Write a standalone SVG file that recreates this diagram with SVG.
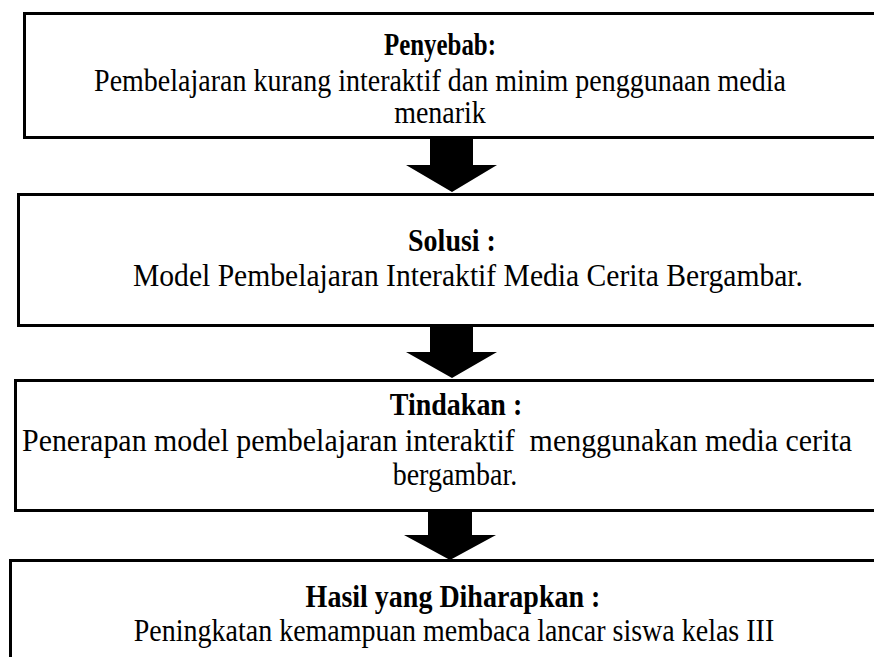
<svg xmlns="http://www.w3.org/2000/svg" width="874" height="657" viewBox="0 0 874 657">
<style>
.box{fill:#fff;stroke:#000;stroke-width:3}
.t{font-family:"Liberation Serif","Times New Roman",serif;font-size:28px;fill:#000;text-anchor:middle;transform-box:fill-box;transform-origin:center;transform:scaleY(1.12)}
.b{font-weight:bold}
.arr{fill:#000}
</style>
<rect width="874" height="657" fill="#fff"/>
<g id="node-penyebab">
<rect class="box" x="24.5" y="13.5" width="870" height="124"/>
<text class="t b" x="440" y="54" textLength="112" lengthAdjust="spacingAndGlyphs">Penyebab:</text>
<text class="t" x="440" y="90">Pembelajaran kurang interaktif dan minim penggunaan media</text>
<text class="t" x="440" y="122">menarik</text>
</g>
<g id="node-solusi">
<rect class="box" x="18.5" y="194.5" width="870" height="131"/>
<text class="t b" x="452" y="250">Solusi :</text>
<text class="t" x="468" y="285" textLength="670" lengthAdjust="spacingAndGlyphs">Model Pembelajaran Interaktif Media Cerita Bergambar.</text>
</g>
<g id="node-tindakan">
<rect class="box" x="15.5" y="380.5" width="870" height="130"/>
<text class="t b" x="456" y="414">Tindakan :</text>
<text class="t" x="437" y="450" xml:space="preserve" textLength="830" lengthAdjust="spacingAndGlyphs">Penerapan model pembelajaran interaktif  menggunakan media cerita</text>
<text class="t" x="455" y="484">bergambar.</text>
</g>
<g id="node-hasil">
<rect class="box" x="10.5" y="560.5" width="870" height="120"/>
<text class="t b" x="453" y="606">Hasil yang Diharapkan :</text>
<text class="t" x="454" y="640">Peningkatan kemampuan membaca lancar siswa kelas III</text>
</g>
<g id="connectors">
<polygon class="arr" points="430,138 473,138 473,165 497,165 452,192 406,165 430,165"/>
<polygon class="arr" points="430,327 473,327 473,352 497,352 452,378 406,352 430,352"/>
<polygon class="arr" points="428,511 472,511 472,535 496,535 450,560 404,535 428,535"/>
</g>
</svg>
